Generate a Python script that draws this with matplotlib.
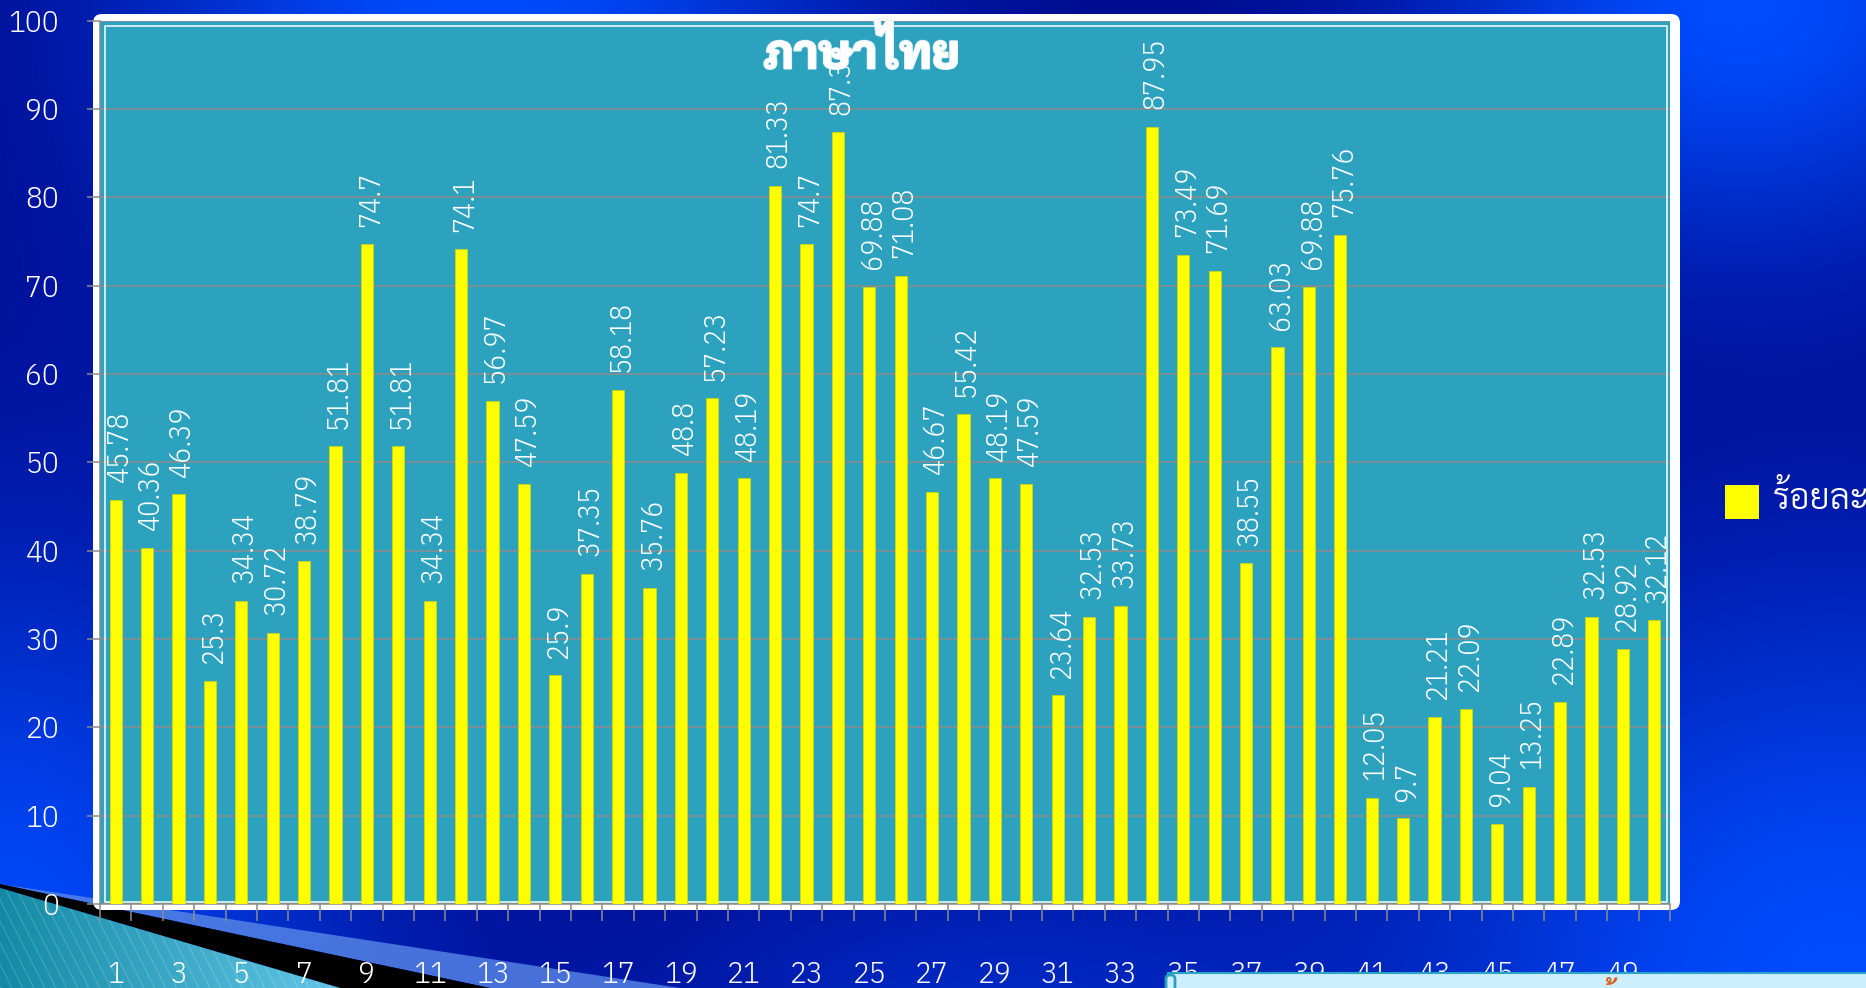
import os
import numpy as np
import matplotlib
matplotlib.use("Agg")
import matplotlib.pyplot as plt
from matplotlib import font_manager
from matplotlib.font_manager import FontProperties
from matplotlib.patches import Polygon, Rectangle, FancyBboxPatch
import matplotlib.patheffects as pe

W, H = 1866, 988

# data
categories = list(range(1, 51))
scores = [45.78, 40.36, 46.39, 25.3, 34.34, 30.72, 38.79, 51.81, 74.7, 51.81,
          34.34, 74.1, 56.97, 47.59, 25.9, 37.35, 58.18, 35.76, 48.8, 57.23,
          48.19, 81.33, 74.7, 87.35, 69.88, 71.08, 46.67, 55.42, 48.19, 47.59,
          23.64, 32.53, 33.73, 87.95, 73.49, 71.69, 38.55, 63.03, 69.88, 75.76,
          12.05, 9.7, 21.21, 22.09, 9.04, 13.25, 22.89, 32.53, 28.92, 32.12]
y_ticks = list(range(0, 101, 10))
title = "ภาษาไทย"
series_name = "ร้อยละ"

TEAL = "#2da2bf"
GRID = "#8c8c8c"

FONT_FILES = {os.path.basename(f): f for f in font_manager.findSystemFonts()}


def pick_font(names, size, fallback="DejaVu Sans"):
    for n in names:
        if n in FONT_FILES:
            return FontProperties(fname=FONT_FILES[n], size=size)
    return FontProperties(family=fallback, size=size)


fp_num = pick_font(["IBMPlexSansCondensed-Light.ttf", "ArchivoNarrow-Regular.ttf"], 21.5)
fp_tick = pick_font(["IBMPlexSansCondensed-Light.ttf", "ArchivoNarrow-Regular.ttf"], 22.5)
fp_title = pick_font(["Sarabun-ExtraBold.ttf", "Sarabun-Bold.ttf", "IBMPlexSansThaiLooped-Bold.ttf"], 34)
fp_legend = pick_font(["Sarabun-Light.ttf", "Sarabun-Regular.ttf", "IBMPlexSansThaiLooped-Light.ttf"], 25.5)
fp_small = pick_font(["Sarabun-Bold.ttf", "IBMPlexSansThaiLooped-Bold.ttf"], 20)

fig = plt.figure(figsize=(W / 100, H / 100), dpi=100)

# ---- slide background: navy with brighter blue glows ----
bg = fig.add_axes([0, 0, 1, 1], zorder=0)
bg.set_xlim(0, W)
bg.set_ylim(H, 0)
bg.axis("off")

yy, xx = np.mgrid[0:H, 0:W].astype(float)


def glow(cx, cy, sx, sy, w):
    return w * np.exp(-((xx - cx) ** 2 / (2 * sx ** 2) + (yy - cy) ** 2 / (2 * sy ** 2)))


g = 1 - ((1 - glow(480, -40, 260, 260, 1.0)) * (1 - glow(1740, 0, 230, 180, 1.0))
         * (1 - glow(1840, 990, 330, 300, 1.0)) * (1 - glow(0, 960, 260, 300, 0.95))
         * (1 - glow(980, 1060, 260, 160, 0.5)))
dark = np.array([0, 8, 138]) / 255
bright = np.array([0, 76, 255]) / 255
bg.imshow(dark + g[..., None] * (bright - dark), extent=(0, W, H, 0), aspect="auto", zorder=0)

# bottom-left swoosh
bg.add_patch(Polygon([(0, 884), (680, 988), (490, 988)], closed=True, fc="#5482e4", ec="none", alpha=0.85, zorder=1))
bg.add_patch(Polygon([(0, 884), (490, 988), (340, 988), (0, 888)], closed=True, fc="black", ec="none", zorder=2))
tri = Polygon([(0, 888), (340, 988), (0, 988)], closed=True, fc="none", ec="none", zorder=3)
bg.add_patch(tri)
grad = np.linspace(0, 1, 200)[None, :]
c0 = np.array([0x13, 0x8a, 0xa5]) / 255
c1 = np.array([0x62, 0xc6, 0xe6]) / 255
im = bg.imshow(c0 + grad[..., None] * (c1 - c0), extent=(0, 340, 988, 880), aspect="auto", zorder=3)
im.set_clip_path(tri)
for x0 in np.arange(-120, 340, 11):
    ln, = bg.plot([x0, x0 + 55], [880, 988], color="white", lw=0.8, alpha=0.18, zorder=4)
    ln.set_clip_path(tri)

# white rounded frame behind the plot area
bg.add_patch(FancyBboxPatch((93, 14), 1587, 896, boxstyle="round,pad=0,rounding_size=9",
                            fc="white", ec="none", zorder=5))

# ---- chart ----
ax = fig.add_axes([100 / W, 1 - 904 / H, 1570 / W, (904 - 20.7) / H], zorder=2)
ax.set_facecolor(TEAL)
x = np.arange(len(scores))
ax.bar(x, scores, width=0.39, color="#ffff00", edgecolor="#d6d600", linewidth=0.5, zorder=3)
ax.set_xlim(-0.5, len(scores) - 0.5)
ax.set_ylim(0, 100)

ax.set_yticks(y_ticks)
ax.set_yticklabels([str(t) for t in y_ticks])
ax.yaxis.grid(True, color=GRID, lw=1.1)
ax.set_axisbelow(True)
ax.tick_params(axis="y", length=9.4, width=1.1, color=GRID, pad=20, labelcolor="white")

ax.set_xticks(x[::2])
ax.set_xticklabels([str(c) for c in categories[::2]])
ax.set_xticks(np.arange(-0.5, len(scores)), minor=True)
ax.tick_params(axis="x", which="major", length=0, pad=41, labelcolor="white")
ax.tick_params(axis="x", which="minor", length=12.2, width=1.1, color=GRID)

for lbl in ax.get_xticklabels() + ax.get_yticklabels():
    lbl.set_fontproperties(fp_tick)

for s in ("top", "right"):
    ax.spines[s].set_visible(False)
for s in ("left", "bottom"):
    ax.spines[s].set_color(GRID)
    ax.spines[s].set_linewidth(1.1)

# thin inner white border
ax.add_patch(Rectangle((5 / 1570, 2 / 883.3), 1 - 8 / 1570, 1 - 7 / 883.3, transform=ax.transAxes,
                       fill=False, ec="white", lw=1.1, zorder=2))

for xi, v in zip(x, scores):
    ax.text(xi + 0.12, v + 2.0, f"{v:g}", rotation=90, ha="center", va="bottom",
            color="white", fontproperties=fp_num, clip_on=True, zorder=4)

# ---- overlay: title, legend, bottom strip ----
ov = fig.add_axes([0, 0, 1, 1], zorder=5)
ov.set_xlim(0, W)
ov.set_ylim(H, 0)
ov.axis("off")
ov.patch.set_visible(False)

ov.add_patch(Rectangle((768, 28), 194, 39, fc=TEAL, ec="none", zorder=1))
ov.text(862, 55, title, ha="center", va="center", color="white", fontproperties=fp_title, zorder=2,
        path_effects=[pe.withStroke(linewidth=1.5, foreground="#e8f4f8")])

ov.add_patch(Rectangle((1725, 485), 34, 34, fc="#ffff00", ec="none"))
ov.text(1773, 499, series_name, ha="left", va="center", color="white", fontproperties=fp_legend)

ov.add_patch(Rectangle((1168, 973), 720, 30, fc="#cdeefc", ec="#2aa3c6", lw=1.5, zorder=1))
ov.add_patch(FancyBboxPatch((1166, 975), 9, 16, boxstyle="round,pad=0,rounding_size=4",
                            fc="#cdeefc", ec="#2a9fc0", lw=2, zorder=2))
ov.text(1600, 1004, "ข้", ha="left", va="baseline", color="#d2601e", fontproperties=fp_small, zorder=2)

fig.savefig("out.png", dpi=100)
